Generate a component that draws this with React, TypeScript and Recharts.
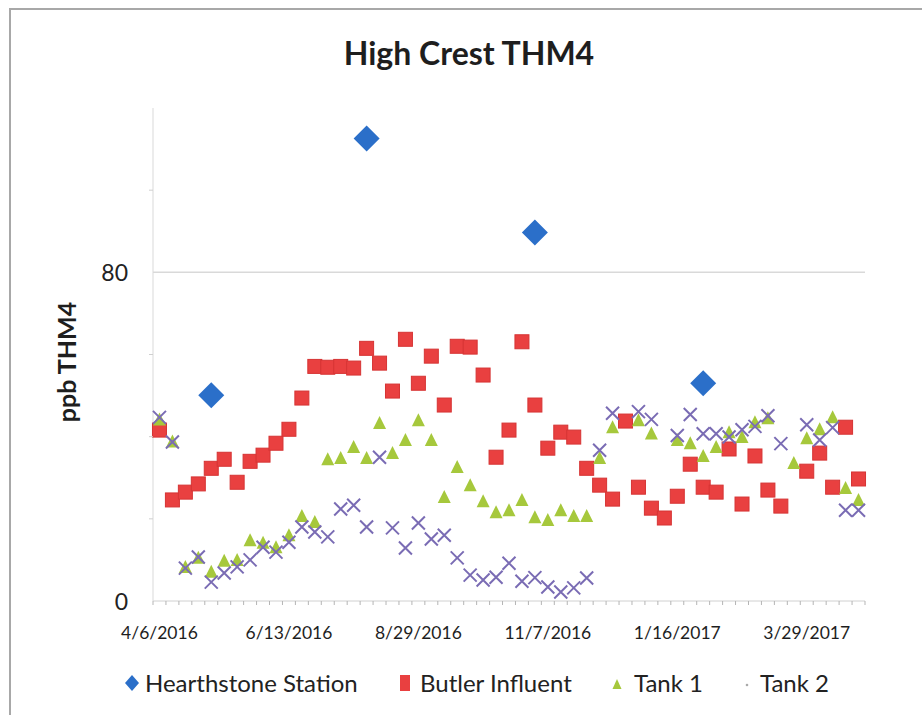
import { LineChart, Line, XAxis, YAxis, ReferenceLine } from 'recharts';

const sampleDates = [
  '4/6/2016', '4/13/2016', '4/20/2016', '4/27/2016', '5/4/2016', '5/11/2016', '5/18/2016', '5/25/2016', '6/1/2016', '6/6/2016',
  '6/13/2016', '6/20/2016', '6/27/2016', '7/5/2016', '7/11/2016', '7/18/2016', '7/25/2016', '8/1/2016', '8/8/2016', '8/22/2016',
  '8/29/2016', '9/6/2016', '9/12/2016', '9/19/2016', '9/26/2016', '10/3/2016', '10/10/2016', '10/17/2016', '10/24/2016', '10/31/2016',
  '11/7/2016', '11/14/2016', '11/21/2016', '11/28/2016', '12/5/2016', '12/12/2016', '12/19/2016', '12/27/2016', '1/3/2017', '1/9/2017',
  '1/16/2017', '1/23/2017', '1/30/2017', '2/6/2017', '2/13/2017', '2/21/2017', '2/27/2017', '3/6/2017', '3/13/2017', '3/20/2017',
  '3/29/2017', '4/3/2017', '4/10/2017', '4/17/2017', '4/24/2017',
];

const hearthstone = [
  null, null, null, null, 50.1, null, null, null, null, null,
  null, null, null, null, null, null, 112.6, null, null, null,
  null, null, null, null, null, null, null, null, null, 89.7,
  null, null, null, null, null, null, null, null, null, null,
  null, null, 53.0, null, null, null, null, null, null, null,
  null, null, null, null, null,
];

const butlerInfluent = [
  41.6, 24.6, 26.5, 28.5, 32.3, 34.5, 28.9, 34.0, 35.5, 38.4,
  41.8, 49.4, 57.1, 56.9, 57.1, 56.7, 61.5, 57.9, 51.1, 63.7,
  53.0, 59.6, 47.7, 62.0, 61.8, 55.0, 35.0, 41.6, 63.1, 47.7,
  37.2, 41.1, 39.9, 32.3, 28.2, 24.8, 43.8, 27.7, 22.6, 20.2,
  25.5, 33.3, 27.7, 26.5, 37.0, 23.6, 35.3, 27.0, 23.1, null,
  31.6, 36.0, 27.7, 42.3, 29.7,
];

const tank1 = [
  44.2, 38.8, 8.3, 10.5, 7.1, 9.8, 10.0, 14.8, 14.2, 13.1,
  16.0, 20.7, 19.2, 34.5, 34.8, 37.5, 34.8, 43.3, 36.0, 39.2,
  44.0, 39.2, 25.3, 32.6, 28.2, 24.3, 21.6, 22.1, 24.6, 20.4,
  19.7, 22.1, 20.7, 20.7, 34.8, 42.3, null, 44.0, 40.8, null,
  39.2, 38.4, 35.3, 37.5, 41.1, 39.9, 43.5, 44.5, null, 33.6,
  39.6, 41.8, 44.7, 27.5, 24.6,
];

const tank2 = [
  44.7, 38.7, 8.0, 10.7, 4.6, 6.8, 8.3, 10.0, 13.1, 11.9,
  14.3, 18.0, 16.8, 15.6, 22.4, 23.3, 18.0, 35.0, 17.8, 12.9,
  19.0, 15.1, 16.0, 10.5, 6.3, 5.1, 5.8, 9.2, 4.8, 5.7,
  3.4, 2.2, 3.2, 5.6, 36.7, 45.7, null, 46.1, 44.2, null,
  40.3, 45.4, 40.7, 40.7, 39.9, 41.7, 42.5, 45.1, 38.3, null,
  42.9, 39.2, 42.2, 22.1, 22.1,
];

const yTicks = [0, 20, 40, 60, 80, 100];

const data = sampleDates.map((date, i) => ({
  date,
  hearthstone: hearthstone[i],
  butler: butlerInfluent[i],
  tank1: tank1[i],
  tank2: tank2[i],
}));

const FONT = "Lato, 'Open Sans', sans-serif";
const PLOT_W = 712;
const STEP = PLOT_W / sampleDates.length;

const BLUE = '#2B6FC9';
const RED = '#E94040';
const GREEN = '#A6C83C';
const PURPLE = '#7A6CB4';

const empty = (key: string) => <g key={key} />;

const diamondDot = (p: any) => {
  const { cx, cy, index, value } = p;
  if (value == null || cy == null) return empty(`hd-${index}`);
  const r = 13;
  return (
    <path
      key={`hd-${index}`}
      d={`M${cx},${cy - r}L${cx + r},${cy}L${cx},${cy + r}L${cx - r},${cy}Z`}
      fill={BLUE}
    />
  );
};

const squareDot = (p: any) => {
  const { cx, cy, index, value } = p;
  if (value == null || cy == null) return empty(`bd-${index}`);
  return (
    <rect key={`bd-${index}`} x={cx - 7} y={cy - 7} width={14} height={14} fill={RED} stroke="#d63434" strokeWidth={1} />
  );
};

const triangleDot = (p: any) => {
  const { cx, cy, index, value } = p;
  if (value == null || cy == null) return empty(`td-${index}`);
  return (
    <path key={`td-${index}`} d={`M${cx},${cy - 7}L${cx + 6.5},${cy + 6}L${cx - 6.5},${cy + 6}Z`} fill={GREEN} />
  );
};

const crossDot = (p: any) => {
  const { cx, cy, index, value } = p;
  if (value == null || cy == null) return empty(`xd-${index}`);
  const s = 6.5;
  return (
    <path
      key={`xd-${index}`}
      d={`M${cx - s},${cy - s}L${cx + s},${cy + s}M${cx + s},${cy - s}L${cx - s},${cy + s}`}
      stroke={PURPLE}
      strokeWidth={2}
      fill="none"
    />
  );
};

const DateTick = (p: any) => {
  const { x, y, payload, index } = p;
  const h = STEP / 2;
  return (
    <g>
      <line x1={x - h} x2={x - h} y1={y} y2={y + 4} stroke="#b5b5b5" />
      {index === sampleDates.length - 1 && <line x1={x + h} x2={x + h} y1={y} y2={y + 4} stroke="#b5b5b5" />}
      {index % 10 === 0 && (
        <text x={x} y={y + 38} textAnchor="middle" fontSize={17.5} fill="#1e1e1e" fontFamily={FONT}>
          {payload.value}
        </text>
      )}
    </g>
  );
};

const ValueTick = (p: any) => {
  const { x, y, payload } = p;
  if (payload.value % 80 === 0) {
    return (
      <text x={x - 25} y={y} textAnchor="end" dominantBaseline="central" fontSize={23} fill="#222" fontFamily={FONT}>
        {payload.value}
      </text>
    );
  }
  return <line x1={x - 4} x2={x} y1={y} y2={y} stroke="#cfcfcf" />;
};

const legendItems = [
  { label: 'Hearthstone Station', mx: 132, tx: 145, marker: <path d="M7,0L14,8L7,16L0,8Z" fill={BLUE} /> },
  { label: 'Butler Influent', mx: 405, tx: 420, marker: <rect x={2} y={0} width={10} height={16} fill={RED} /> },
  { label: 'Tank 1', mx: 617, tx: 634, marker: <path d="M7,4L11.5,14L2.5,14Z" fill={GREEN} /> },
  { label: 'Tank 2', mx: 747, tx: 760, marker: <circle cx={7} cy={10} r={1.3} fill="#aaa" /> },
];

export default function App() {
  return (
    <div style={{ position: 'absolute', left: 0, top: 0, width: 922, height: 715, background: '#fff', fontFamily: FONT }}>
      <div
        style={{
          position: 'absolute',
          left: 9,
          top: 8,
          right: 0,
          bottom: 0,
          borderTop: '2px solid #a8a8a8',
          borderLeft: '2px solid #a8a8a8',
        }}
      />
      <div
        style={{
          position: 'absolute',
          left: 0,
          width: 938,
          top: 33,
          textAlign: 'center',
          fontSize: 32,
          fontWeight: 700,
          color: '#1e1e1e',
        }}
      >
        High Crest THM4
      </div>
      <div
        style={{
          position: 'absolute',
          left: 66,
          top: 362,
          transform: 'translate(-50%, -50%) rotate(-90deg)',
          fontSize: 25,
          fontWeight: 700,
          color: '#1e1e1e',
          whiteSpace: 'nowrap',
        }}
      >
        ppb THM4
      </div>
      <div style={{ position: 'absolute', left: 0, top: 0 }}>
        <LineChart width={922} height={715} data={data} margin={{ top: 108, right: 57, bottom: 74, left: 113 }}>
          <ReferenceLine y={80} stroke="#d9d9d9" strokeWidth={1.5} />
          <XAxis
            dataKey="date"
            interval={0}
            padding={{ left: STEP / 2, right: STEP / 2 }}
            height={40}
            tickLine={false}
            tickSize={0}
            tickMargin={0}
            axisLine={{ stroke: '#d0d0d0' }}
            tick={DateTick}
          />
          <YAxis
            domain={[0, 120]}
            ticks={yTicks}
            width={40}
            tickLine={false}
            tickSize={0}
            tickMargin={0}
            axisLine={{ stroke: '#d9d9d9' }}
            tick={ValueTick}
          />
          <Line dataKey="hearthstone" stroke="none" dot={diamondDot} activeDot={false} isAnimationActive={false} />
          <Line dataKey="butler" stroke="none" dot={squareDot} activeDot={false} isAnimationActive={false} />
          <Line dataKey="tank1" stroke="none" dot={triangleDot} activeDot={false} isAnimationActive={false} />
          <Line dataKey="tank2" stroke="none" dot={crossDot} activeDot={false} isAnimationActive={false} />
        </LineChart>
      </div>
      {legendItems.map((item) => (
        <div key={item.label}>
          <svg width={14} height={16} style={{ position: 'absolute', left: item.mx - 7, top: 675 }}>
            {item.marker}
          </svg>
          <span
            style={{
              position: 'absolute',
              left: item.tx,
              top: 668,
              fontSize: 24,
              lineHeight: '30px',
              color: '#222',
              whiteSpace: 'nowrap',
            }}
          >
            {item.label}
          </span>
        </div>
      ))}
    </div>
  );
}
